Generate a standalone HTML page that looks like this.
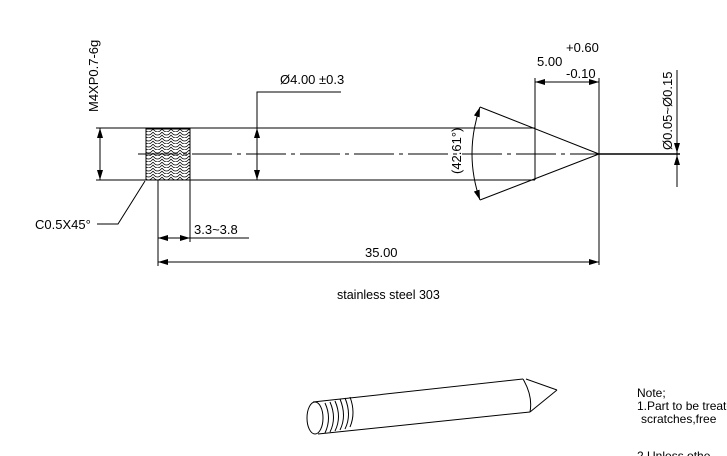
<!DOCTYPE html>
<html><head><style>body{margin:0;background:#fff}svg{display:block}text{font-family:"Liberation Sans",sans-serif;fill:#000}</style></head><body>
<svg width="727" height="456" viewBox="0 0 727 456" xmlns="http://www.w3.org/2000/svg">
<defs>
<marker id="a" viewBox="0 0 10 6" refX="10" refY="3" markerWidth="10" markerHeight="6" orient="auto-start-reverse" markerUnits="userSpaceOnUse"><path d="M0,0L10,3L0,6z"/></marker>
<pattern id="th" width="9" height="6" patternUnits="userSpaceOnUse"><path d="M0,0 Q4.5,6 9,0 M0,3 Q4.5,9 9,3" fill="none" stroke="#000" stroke-width="0.7"/></pattern>
</defs>
<g stroke="#000" fill="none" stroke-width="1">
<line x1="96" y1="128" x2="535" y2="128"/><line x1="96" y1="180" x2="535" y2="180"/>
<rect x="146" y="129" width="44" height="51" fill="url(#th)" stroke="#000"/>
<line x1="138" y1="154" x2="599" y2="154" stroke-dasharray="40,5,4,5"/>
<line x1="535" y1="128" x2="535" y2="180"/>
<line x1="480" y1="107" x2="599" y2="154"/><line x1="480" y1="200" x2="599" y2="154"/>
<path d="M480,107 Q464,154 480,200" marker-start="url(#a)" marker-end="url(#a)"/>
<line x1="599" y1="154" x2="680" y2="154" stroke-width="1.5"/>
<line x1="677" y1="70" x2="677" y2="187"/>
<line x1="677" y1="143" x2="677" y2="153" marker-end="url(#a)"/><line x1="677" y1="165" x2="677" y2="155" marker-end="url(#a)"/>
<line x1="535" y1="78" x2="535" y2="128"/><line x1="599" y1="78" x2="599" y2="265"/>
<line x1="535" y1="82" x2="599" y2="82" marker-start="url(#a)" marker-end="url(#a)"/>
<line x1="100" y1="128" x2="100" y2="180" marker-start="url(#a)" marker-end="url(#a)"/>
<line x1="257" y1="128" x2="257" y2="180" marker-start="url(#a)" marker-end="url(#a)"/>
<polyline points="257,128 257,92 341,92"/>
<polyline points="145,181 118,224 97,224"/>
<line x1="158" y1="180" x2="158" y2="266"/><line x1="190" y1="180" x2="190" y2="242"/>
<line x1="158" y1="238" x2="190" y2="238" marker-start="url(#a)" marker-end="url(#a)"/>
<line x1="190" y1="238" x2="249" y2="238"/>
<line x1="158" y1="262" x2="599" y2="262" marker-start="url(#a)" marker-end="url(#a)"/>
<ellipse cx="315" cy="418" rx="8" ry="16"/>
<path d="M325,403 Q332,418 325,433 M330,402 Q337,418 330,432 M335,401 Q342,417 335,431 M340,399 Q347,416 340,430 M345,398 Q352,415 345,429 M350,397 Q356,413 350,427"/>
<line x1="313" y1="402" x2="523" y2="379"/><line x1="318" y1="434" x2="530" y2="412"/>
<path d="M523,379 Q533,396 530,412"/>
<line x1="526" y1="379" x2="557" y2="390"/><line x1="530" y1="412" x2="557" y2="390"/>
</g>
<g font-size="13">
<text transform="translate(98,112) rotate(-90)">M4XP0.7-6g</text>
<text x="280" y="84">Ø4.00 ±0.3</text>
<text x="35" y="229">C0.5X45°</text>
<text x="194" y="234">3.3~3.8</text>
<text x="365" y="257">35.00</text>
<text x="337" y="299" font-size="12.5">stainless steel 303</text>
<text x="537" y="66">5.00</text>
<text x="566" y="52">+0.60</text>
<text x="566" y="78">-0.10</text>
<text transform="translate(461,174) rotate(-90)">(42.61°)</text>
<text transform="translate(672,150) rotate(-90)">Ø0.05~Ø0.15</text>
</g>
<g font-size="12">
<text x="637" y="397">Note;</text>
<text x="637" y="410">1.Part to be treated</text>
<text x="641" y="423">scratches,free</text>
<text x="637" y="460">2.Unless othe</text>
</g>
</svg>
</body></html>
